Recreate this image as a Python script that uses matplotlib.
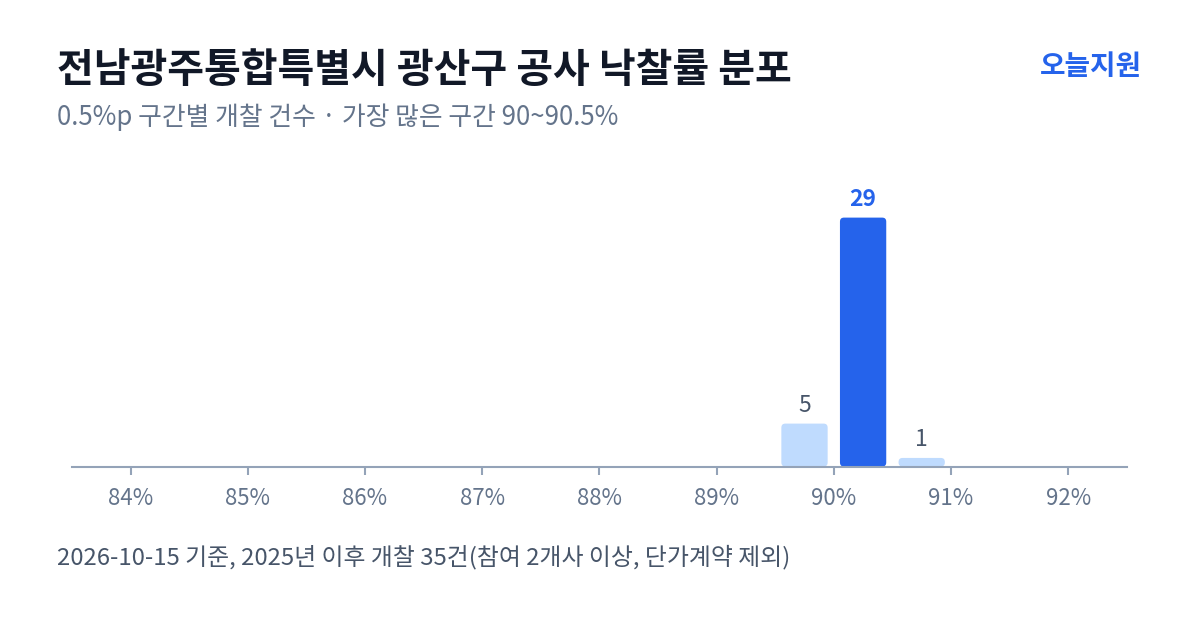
import matplotlib
matplotlib.use('Agg')
import matplotlib.pyplot as plt
from matplotlib.patches import FancyBboxPatch

plt.rcParams['font.family'] = ['Noto Sans CJK KR', 'DejaVu Sans']

# 구간 중앙값(%)과 건수
구간 = [89.75, 90.25, 90.75]
건수 = [5, 29, 1]
최다 = 29
눈금 = [84, 85, 86, 87, 88, 89, 90, 91, 92]
눈금라벨 = ['84%', '85%', '86%', '87%', '88%', '89%', '90%', '91%', '92%']

제목 = '전남광주통합특별시 광산구 공사 낙찰률 분포'
부제 = '0.5%p 구간별 개찰 건수 · 가장 많은 구간 90~90.5%'
각주 = '2026-10-15 기준, 2025년 이후 개찰 35건(참여 2개사 이상, 단가계약 제외)'
브랜드 = '오늘지원'

진파랑 = '#2563EB'
연파랑 = '#BFDBFE'

fig = plt.figure(figsize=(12, 6.3), dpi=100)
ax = fig.add_axes([0.06, 0.2595, 0.879, 0.50])

colors = [진파랑 if v == 최다 else 연파랑 for v in 건수]
bars = ax.bar(구간, 건수, width=0.395, color=colors)

ax.set_xlim(83.5, 92.5)
ax.set_ylim(0, 36.7)

# 둥근 모서리로 교체
for b, c in zip(bars, colors):
    b.set_visible(False)
    x, y = b.get_x(), b.get_y()
    w, h = b.get_width(), b.get_height()
    p = FancyBboxPatch((x, y), w, h, boxstyle='round,pad=0,rounding_size=0.034',
                       mutation_aspect=13.8, facecolor=c, edgecolor='none')
    ax.add_patch(p)

for xv, v in zip(구간, 건수):
    if v == 최다:
        ax.text(xv, v + 0.8, str(v), ha='center', va='bottom', fontsize=16.5,
                fontweight='bold', color=진파랑)
    else:
        ax.text(xv, v + 0.8, str(v), ha='center', va='bottom', fontsize=16.5,
                color='#475569')

ax.set_xticks(눈금)
ax.set_xticklabels(눈금라벨)
ax.tick_params(axis='x', colors='#94A3B8', length=6, width=1.5, labelsize=16,
               labelcolor='#64748B', pad=9)
ax.set_yticks([])
for s in ['top', 'right', 'left']:
    ax.spines[s].set_visible(False)
ax.spines['bottom'].set_color('#94A3B8')
ax.spines['bottom'].set_linewidth(1.5)

fig.text(57 / 1200, 1 - 82 / 630, 제목, fontsize=28.8, fontweight='bold',
         color='#111827', ha='left', va='baseline')
fig.text(57 / 1200, 1 - 125 / 630, 부제, fontsize=18.6, color='#64748B',
         ha='left', va='baseline')
fig.text(1142 / 1200, 1 - 75 / 630, 브랜드, fontsize=20, fontweight='bold',
         color=진파랑, ha='right', va='baseline')
fig.text(57 / 1200, 1 - 564 / 630, 각주, fontsize=17.2, color='#475569',
         ha='left', va='baseline')

fig.savefig('out.png', dpi=100, facecolor='white')
